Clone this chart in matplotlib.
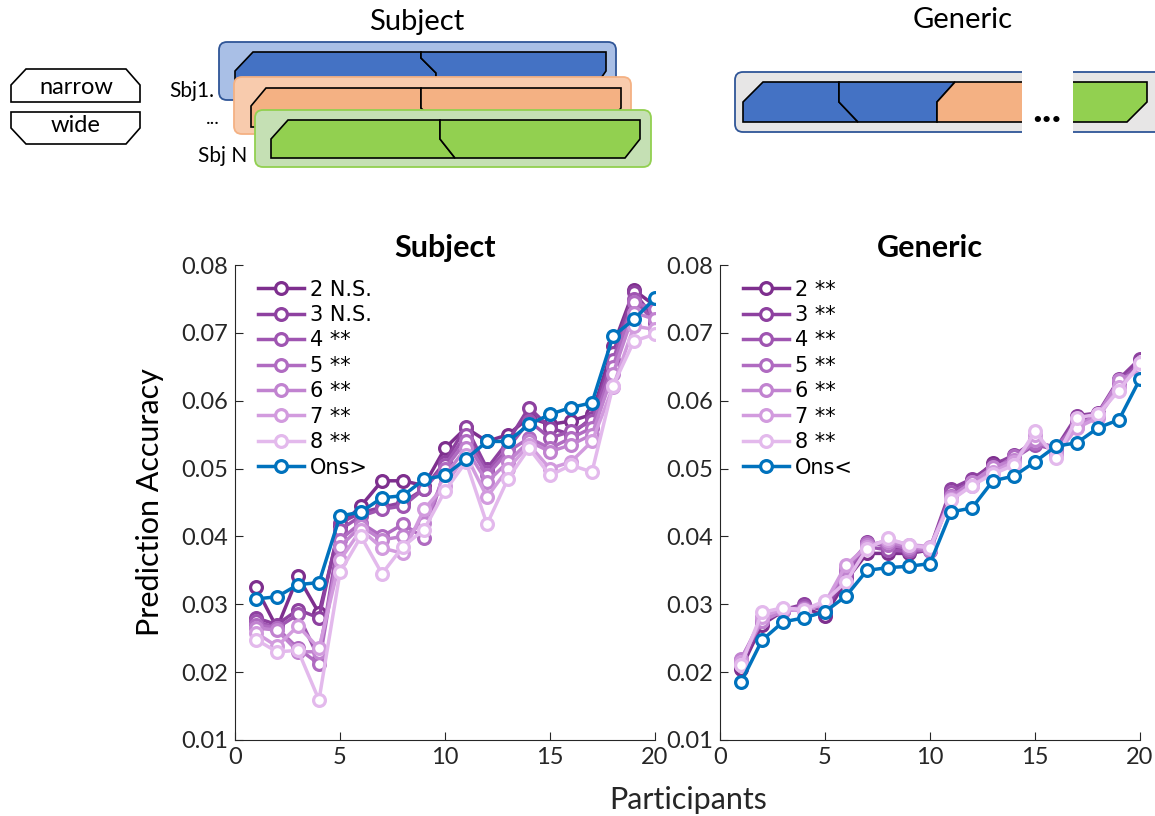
import numpy as np
import matplotlib
matplotlib.use("Agg")
from matplotlib import pyplot as plt
from matplotlib.patches import Polygon, FancyBboxPatch, Rectangle

plt.rcParams['font.family'] = ['Lato', 'DejaVu Sans']

participants = np.arange(1, 21)

# Subject models (n = 2..8) and onset model
subj_2 = [0.0325, 0.0265, 0.0341, 0.0287, 0.0415, 0.0445, 0.0482, 0.0482, 0.0475, 0.0530,
          0.0560, 0.0540, 0.0550, 0.0575, 0.0565, 0.0570, 0.0580, 0.0680, 0.0763, 0.0740]
subj_3 = [0.0280, 0.0270, 0.0292, 0.0280, 0.0420, 0.0435, 0.0443, 0.0450, 0.0470, 0.0510,
          0.0562, 0.0500, 0.0540, 0.0590, 0.0560, 0.0550, 0.0575, 0.0670, 0.0760, 0.0720]
subj_4 = [0.0275, 0.0265, 0.0285, 0.0220, 0.0410, 0.0430, 0.0440, 0.0445, 0.0470, 0.0505,
          0.0550, 0.0495, 0.0530, 0.0570, 0.0545, 0.0555, 0.0570, 0.0660, 0.0750, 0.0715]
subj_5 = [0.0270, 0.0265, 0.0235, 0.0212, 0.0395, 0.0420, 0.0400, 0.0418, 0.0398, 0.0500,
          0.0540, 0.0490, 0.0525, 0.0545, 0.0530, 0.0545, 0.0560, 0.0650, 0.0745, 0.0735]
subj_6 = [0.0265, 0.0262, 0.0230, 0.0230, 0.0385, 0.0415, 0.0395, 0.0400, 0.0420, 0.0490,
          0.0530, 0.0480, 0.0510, 0.0540, 0.0525, 0.0535, 0.0550, 0.0640, 0.0730, 0.0720]
subj_7 = [0.0258, 0.0238, 0.0268, 0.0235, 0.0365, 0.0410, 0.0383, 0.0375, 0.0440, 0.0475,
          0.0520, 0.0458, 0.0500, 0.0535, 0.0500, 0.0510, 0.0540, 0.0620, 0.0710, 0.0705]
subj_8 = [0.0248, 0.0230, 0.0232, 0.0159, 0.0347, 0.0400, 0.0345, 0.0385, 0.0410, 0.0467,
          0.0510, 0.0418, 0.0485, 0.0530, 0.0490, 0.0505, 0.0495, 0.0622, 0.0688, 0.0698]
subj_ons = [0.0308, 0.0311, 0.0329, 0.0332, 0.0430, 0.0436, 0.0457, 0.0460, 0.0484, 0.0490,
            0.0514, 0.0540, 0.0540, 0.0565, 0.0580, 0.0590, 0.0597, 0.0695, 0.0720, 0.0751]

# Generic models
gen_2 = [0.0205, 0.0270, 0.0290, 0.0295, 0.0283, 0.0335, 0.0375, 0.0375, 0.0375, 0.0380,
         0.0462, 0.0482, 0.0508, 0.0515, 0.0540, 0.0525, 0.0570, 0.0580, 0.0625, 0.0650]
gen_3 = [0.0210, 0.0275, 0.0292, 0.0300, 0.0290, 0.0340, 0.0392, 0.0385, 0.0380, 0.0382,
         0.0470, 0.0485, 0.0505, 0.0520, 0.0540, 0.0530, 0.0578, 0.0582, 0.0632, 0.0662]
gen_4 = [0.0215, 0.0278, 0.0290, 0.0298, 0.0295, 0.0345, 0.0385, 0.0380, 0.0378, 0.0380,
         0.0465, 0.0480, 0.0500, 0.0515, 0.0535, 0.0528, 0.0572, 0.0580, 0.0628, 0.0655]
gen_5 = [0.0218, 0.0280, 0.0292, 0.0295, 0.0298, 0.0350, 0.0390, 0.0388, 0.0382, 0.0378,
         0.0460, 0.0478, 0.0498, 0.0518, 0.0538, 0.0532, 0.0565, 0.0578, 0.0625, 0.0650]
gen_6 = [0.0220, 0.0275, 0.0290, 0.0293, 0.0300, 0.0355, 0.0388, 0.0392, 0.0385, 0.0380,
         0.0458, 0.0480, 0.0502, 0.0512, 0.0542, 0.0525, 0.0562, 0.0580, 0.0630, 0.0645]
gen_7 = [0.0215, 0.0282, 0.0293, 0.0290, 0.0302, 0.0358, 0.0385, 0.0395, 0.0388, 0.0385,
         0.0455, 0.0475, 0.0495, 0.0510, 0.0550, 0.0520, 0.0560, 0.0575, 0.0620, 0.0650]
gen_8 = [0.0210, 0.0288, 0.0295, 0.0292, 0.0305, 0.0333, 0.0382, 0.0397, 0.0387, 0.0383,
         0.0453, 0.0475, 0.0492, 0.0505, 0.0555, 0.0515, 0.0575, 0.0580, 0.0615, 0.0655]
gen_ons = [0.0185, 0.0247, 0.0274, 0.0280, 0.0289, 0.0312, 0.0350, 0.0354, 0.0356, 0.0360,
           0.0436, 0.0442, 0.0482, 0.0489, 0.0510, 0.0533, 0.0538, 0.0560, 0.0572, 0.0632]

subj_labels = ['2 N.S.', '3 N.S.', '4 **', '5 **', '6 **', '7 **', '8 **', 'Ons>']
gen_labels = ['2 **', '3 **', '4 **', '5 **', '6 **', '7 **', '8 **', 'Ons<']

purples = ['#7e2f8e', '#8e41a0', '#9f55b1', '#b06bc1', '#c183d0', '#d29bde', '#e3b9ec']
blue = '#0072bd'

fig = plt.figure(figsize=(11.55, 8.16), dpi=100)

# ---------- diagram on top (pixel coordinates) ----------
dg = fig.add_axes([0, 0, 1, 1])
dg.set_xlim(0, 1155)
dg.set_ylim(816, 0)
dg.axis('off')

def rbox(x0, y0, x1, y1, fc, ec):
    dg.add_patch(FancyBboxPatch((x0, y0), x1 - x0, y1 - y0, boxstyle="round,pad=0,rounding_size=8",
                                fc=fc, ec=ec, lw=1.3))

def poly(pts, fc):
    dg.add_patch(Polygon(pts, closed=True, fc=fc, ec='black', lw=1.2, joinstyle='miter'))

# narrow / wide boxes
poly([(11, 85), (26, 69), (126, 69), (140, 85), (140, 102), (11, 102)], 'white')
poly([(11, 112), (140, 112), (140, 128), (126, 144), (26, 144), (11, 128)], 'white')
dg.text(76, 87, 'narrow', ha='center', va='center', fontsize=17)
dg.text(76, 126, 'wide', ha='center', va='center', fontsize=17)

# Subject stack
rbox(219, 42, 616, 100, '#a9bfe6', '#2f5597')
poly([(235, 71), (253, 52), (421, 52), (421, 58), (436, 73), (436, 91), (235, 91)], '#4472c4')
poly([(421, 52), (606, 52), (606, 71), (592, 91), (436, 91), (436, 73), (421, 58)], '#4472c4')
rbox(234, 77, 631, 134, '#f8cbad', '#f4b183')
poly([(251, 106), (266, 88), (421, 88), (421, 108), (426, 113), (426, 127), (251, 127)], '#f4b183')
poly([(421, 88), (621, 88), (621, 108), (606, 127), (426, 127), (426, 113), (421, 108)], '#f4b183')
rbox(255, 110, 651, 167, '#c5e0b4', '#92d050')
poly([(271, 139), (288, 120), (440, 120), (440, 139), (455, 158), (271, 158)], '#92d050')
poly([(440, 120), (640, 120), (640, 139), (625, 158), (455, 158), (440, 139)], '#92d050')
dg.text(417, 22, 'Subject', ha='center', va='center', fontsize=21)
dg.text(214, 91, 'Sbj1.', ha='right', va='center', fontsize=15)
dg.text(213, 118, '...', ha='center', va='center', fontsize=14)
dg.text(247, 156, 'Sbj N', ha='right', va='center', fontsize=15)

# Generic bar
rbox(735, 72, 1175, 132, '#e7e6e6', '#2f5597')
poly([(743, 102), (763, 82), (839, 82), (839, 102), (858, 122), (743, 122)], '#4472c4')
poly([(839, 82), (955, 82), (937, 102), (937, 122), (858, 122), (839, 102)], '#4472c4')
poly([(955, 82), (1040, 82), (1040, 122), (937, 122), (937, 102)], '#f4b183')
poly([(1060, 82), (1147, 82), (1147, 102), (1127, 122), (1060, 122)], '#92d050')
dg.add_patch(Rectangle((1022, 68), 51, 70, fc='white', ec='none'))
dg.text(1047, 110, '...', ha='center', va='center', fontsize=30, fontweight='bold')
dg.text(963, 20, 'Generic', ha='center', va='center', fontsize=21)

# ---------- plots ----------
ax1 = fig.add_axes([235 / 1155, 1 - 740 / 816, 420 / 1155, 475 / 816])
ax2 = fig.add_axes([720 / 1155, 1 - 740 / 816, 420 / 1155, 475 / 816])

panels = [
    (ax1, 'Subject', [subj_2, subj_3, subj_4, subj_5, subj_6, subj_7, subj_8], subj_ons, subj_labels),
    (ax2, 'Generic', [gen_2, gen_3, gen_4, gen_5, gen_6, gen_7, gen_8], gen_ons, gen_labels),
]

for ax, title, series, ons, labels in panels:
    for s, c, lab in zip(series, purples, labels):
        ax.plot(participants, s, '-o', color=c, lw=2.5, ms=8.5, mfc='white', mec=c, mew=2.3, label=lab)
    ax.plot(participants, ons, '-o', color=blue, lw=2.5, ms=8.5, mfc='white', mec=blue, mew=2.3, label=labels[-1])
    ax.set_xlim(0, 20)
    ax.set_ylim(0.01, 0.08)
    ax.set_xticks([0, 5, 10, 15, 20])
    ax.set_yticks(np.arange(0.01, 0.081, 0.01))
    ax.set_yticklabels(['0.01', '0.02', '0.03', '0.04', '0.05', '0.06', '0.07', '0.08'])
    ax.tick_params(direction='in', length=6, labelsize=17, colors='#262626', pad=5)
    for sp in ['top', 'right']:
        ax.spines[sp].set_visible(False)
    for sp in ['left', 'bottom']:
        ax.spines[sp].set_color('#262626')
    ax.set_title(title, fontsize=22, fontweight='bold', pad=6)
    ax.legend(loc='upper left', frameon=False, prop={'family': 'DejaVu Sans', 'size': 15},
              handlelength=2.2, handletextpad=0.3, labelspacing=0.26, borderaxespad=0.3,
              bbox_to_anchor=(0.02, 1.0))
    ax.set_facecolor('none')

ax1.set_ylabel('Prediction Accuracy', fontsize=22, labelpad=12)
fig.text(688 / 1155, 1 - 800 / 816, 'Participants', ha='center', va='center', fontsize=22, color='#262626')

plt.savefig('out.png', dpi=100)
